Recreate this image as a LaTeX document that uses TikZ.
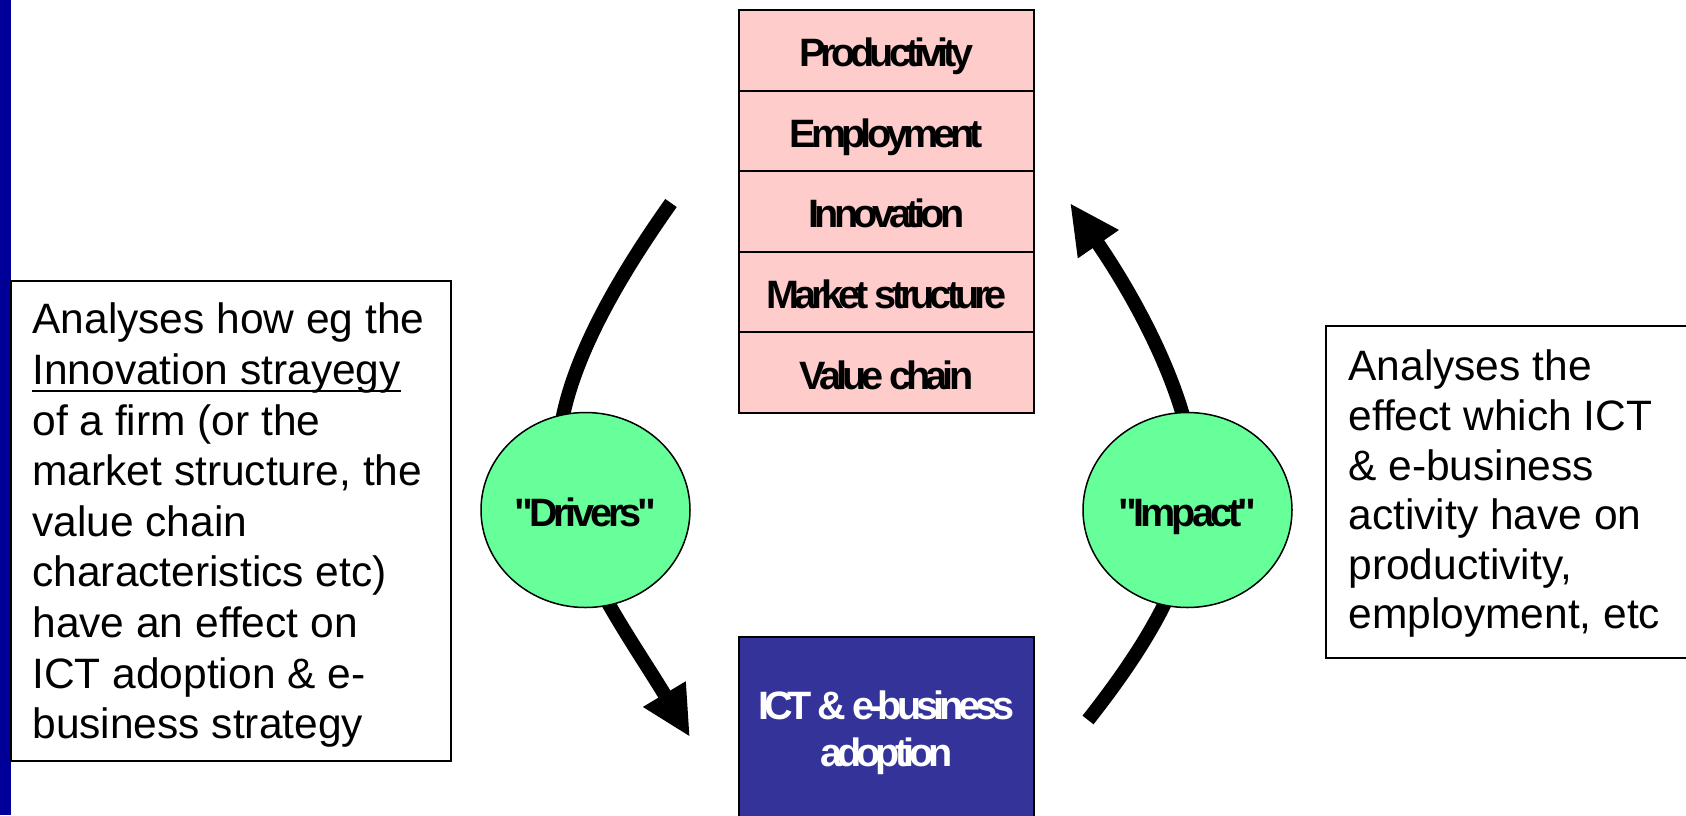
\documentclass[tikz,border=0pt]{standalone}
\usepackage{fontspec}
\setmainfont{Liberation Sans}
\newfontfamily\labelfont{Liberation Sans}[LetterSpace=-12.5]
\newfontfamily\ovalfont{Liberation Sans}[LetterSpace=-10,Ligatures=TeXOff]
\usetikzlibrary{arrows.meta,shapes.geometric}

\definecolor{barblue}{HTML}{000099}
\definecolor{rowpink}{HTML}{FFCCCC}
\definecolor{adoptblue}{HTML}{333399}
\definecolor{ovalgreen}{HTML}{66FF99}

% underline set low, crossing the descenders
\newcommand\lowrule[1]{\setbox0=\hbox{#1}\rlap{\rule[-4pt]{\wd0}{1.3pt}}\box0}

\tikzset{
  rowbox/.style={draw=black, line width=1pt, fill=rowpink,
    minimum width=147.5pt, minimum height=40.3pt, inner sep=0pt,
    text height=16.4pt, text depth=0pt,
    font=\labelfont\bfseries\fontsize{19.8pt}{22pt}\selectfont},
  adoptbox/.style={draw=black, line width=1pt, fill=adoptblue, text=white,
    minimum width=147.5pt, minimum height=96pt, inner sep=0pt, align=center,
    font=\labelfont\bfseries\fontsize{19.8pt}{23.5pt}\selectfont},
  oval/.style={ellipse, draw=black, line width=0.75pt, fill=ovalgreen,
    minimum width=104.5pt, minimum height=97.5pt, inner sep=0pt,
    text height=16.6pt, text depth=0pt,
    font=\ovalfont\bfseries\fontsize{19.8pt}{22pt}\selectfont},
  notebox/.style={draw=black, line width=1pt, fill=white, inner sep=0pt},
  notetext/.style={anchor=north west, inner sep=0pt, align=left},
  flow/.style={line width=7pt, -{Triangle[length=25pt,width=23pt]}},
}

\begin{document}
\begin{tikzpicture}[x=0.5pt, y=-0.5pt]
  \clip (0,0) rectangle (1686,815);
  \fill[white] (0,0) rectangle (1686,815);

  % side bar
  \fill[barblue] (0,0) rectangle (11,815);

  % outcome stack
  \node[rowbox] (prod)  at (886.5, 50.3)  {Productivity};
  \node[rowbox] (empl)  at (886.5, 130.9) {Employment};
  \node[rowbox] (innov) at (886.5, 211.5) {Innovation};
  \node[rowbox] (mkt)   at (886.5, 292.1) {Market structure};
  \node[rowbox] (chain) at (886.5, 372.7) {Value chain};

  % adoption box
  \node[adoptbox] (ict) at (886.5, 733) {ICT \& e-business\\adoption};

  % explanatory boxes
  \node[notebox, minimum width=220pt, minimum height=240pt] (leftbox) at (231, 521) {};
  \node[notebox, minimum width=190pt, minimum height=166pt] (rightbox) at (1516, 492) {};

  \node[notetext, font=\fontsize{21.25pt}{25.3pt}\selectfont] (drvnote) at (32, 302.6)
    {Analyses how eg the\\
     \lowrule{Innovation strayegy}\\
     of a firm (or the\\
     market structure, the\\
     value chain\\
     characteristics etc)\\
     have an effect on\\
     ICT adoption \& e-\\
     business strategy};

  \node[notetext, font=\fontsize{21.25pt}{24.8pt}\selectfont] (impnote) at (1348, 349.6)
    {Analyses the\\
     effect which ICT\\
     \& e-business\\
     activity have on\\
     productivity,\\
     employment, etc};

  % curved flows, passing behind the ovals
  \coordinate (drvStart) at (671,203);
  \coordinate (drvMid)   at (558,460);
  \coordinate (drvEnd)   at (690,737);
  \draw[flow] (drvStart) .. controls (613,285) and (558,380) .. (drvMid)
                         .. controls (558,540) and (632,640) .. (drvEnd);

  \coordinate (impStart) at (1088,720);
  \coordinate (impMid)   at (1195,490);
  \coordinate (impEnd)   at (1070,203);
  \draw[flow] (impStart) .. controls (1143,650) and (1195,570) .. (impMid)
                         .. controls (1195,400) and (1130,290) .. (impEnd);

  % ovals
  \node[oval] (drivers) at (585.5, 510) {"Drivers"};
  \node[oval] (impact)  at (1187.5, 510) {"Impact"};
\end{tikzpicture}
\end{document}
